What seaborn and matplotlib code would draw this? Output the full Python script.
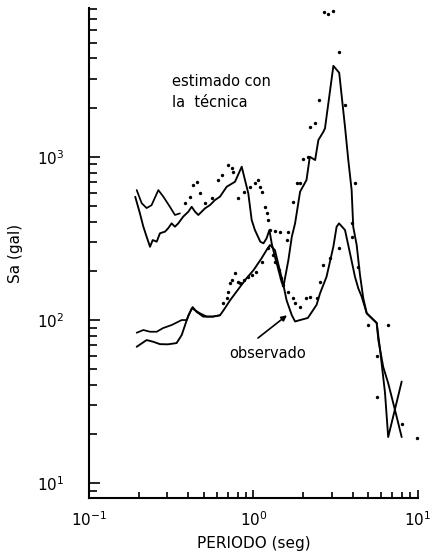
import numpy as np
import matplotlib
matplotlib.use("Agg")
import matplotlib.pyplot as plt
import seaborn as sns
from matplotlib.ticker import LogLocator, NullFormatter

# ---- data (period T in s, spectral acceleration Sa in gal) ----
upper_obs_T = [0.191, 0.204, 0.214, 0.224, 0.235, 0.244, 0.258, 0.270, 0.290, 0.303,
               0.318, 0.333, 0.349, 0.374, 0.402, 0.421, 0.441, 0.462, 0.484, 0.507,
               0.544, 0.583, 0.626, 0.687, 0.772, 0.848, 0.888, 0.930, 0.975, 1.02,
               1.10, 1.15, 1.20, 1.25, 1.29, 1.35, 1.42, 1.48, 1.52, 1.63,
               1.71, 1.79, 1.92, 2.10, 2.20, 2.37, 2.48, 2.66, 2.72, 3.06,
               3.32, 3.60, 3.77, 3.95, 4.04, 4.24, 4.44, 4.65, 4.88, 5.61,
               5.88, 6.30, 6.59, 7.96]
upper_obs_Sa = [569, 450, 373, 324, 281, 309, 302, 340, 348, 365,
                391, 373, 391, 430, 461, 494, 461, 440, 461, 483,
                506, 543, 570, 655, 703, 869, 720, 597, 410, 356,
                302, 295, 316, 356, 295, 244, 202, 172, 160, 233,
                324, 391, 611, 720, 1000, 955, 1266, 1423, 1492, 3605,
                3267, 1527, 955, 626, 372, 288, 189, 136, 110, 96,
                66, 36, 19.2, 42]

lower_obs_T = [0.195, 0.224, 0.246, 0.270, 0.302, 0.341, 0.366, 0.402, 0.427, 0.452,
               0.495, 0.567, 0.626, 0.67, 0.72, 0.83, 0.91, 1.00, 1.12, 1.20,
               1.26, 1.35, 1.52, 1.59, 1.71, 1.79, 1.92, 2.14, 2.42, 2.54,
               2.78, 3.06, 3.20, 3.31, 3.60, 3.86, 4.14, 4.34, 4.55, 4.88,
               5.61, 5.74, 6.15, 6.59, 7.25, 7.96]
lower_obs_Sa = [68.6, 75.4, 73.6, 71.2, 71, 72.3, 80.9, 107, 120, 112,
                105, 105, 107, 118, 132, 160, 181, 202, 239, 268,
                288, 268, 164, 132, 107, 98, 100, 103, 124, 146,
                184, 282, 372, 391, 356, 257, 184, 156, 139, 110,
                96, 75.5, 51.5, 41.1, 28.1, 19.2]

# estimated spectra: dense (short-period) part drawn as a line, rest as dots
upper_est_line_T = [0.195, 0.209, 0.224, 0.240, 0.264, 0.283, 0.310, 0.333, 0.357]
upper_est_line_Sa = [625, 520, 485, 505, 625, 570, 495, 440, 450]
upper_est_dot_T = [0.383, 0.411, 0.431, 0.452, 0.473, 0.51, 0.56, 0.61, 0.64, 0.70,
                   0.74, 0.75, 0.81, 0.87, 0.95, 1.02, 1.07, 1.10, 1.12, 1.17,
                   1.20, 1.23, 1.26, 1.35, 1.45, 1.59, 1.63, 1.73, 1.83, 1.92, 2.01,
                   2.15, 2.20, 2.37, 2.51, 2.68, 2.85, 3.06, 3.32, 3.60, 4.14,
                   6.59, 7.96]
upper_est_dot_Sa = [520, 570, 670, 700, 600, 520, 560, 720, 773, 890,
                    850, 810, 556, 611, 655, 687, 720, 655, 611, 494,
                    450, 410, 356, 350, 348, 309, 348, 530, 693, 693, 964,
                    1000, 1527, 1602, 2223, 7730, 7480, 7830, 4355, 2072, 693,
                    93, 23]

lower_est_line_T = [0.195, 0.214, 0.235, 0.258, 0.282, 0.318, 0.366, 0.393, 0.421, 0.441,
                    0.473, 0.520, 0.567, 0.626]
lower_est_line_Sa = [83.6, 86.9, 84.8, 84.8, 89.3, 93.2, 100, 100, 118, 115,
                     110, 105, 105, 107]
lower_est_dot_T = [0.655, 0.687, 0.70, 0.72, 0.74, 0.77, 0.81, 0.83, 0.88, 0.93, 0.975, 1.04,
                   1.13, 1.23, 1.32, 1.35, 1.42, 1.48, 1.52, 1.63, 1.74, 1.79,
                   1.92, 2.10, 2.22, 2.42, 2.54, 2.66, 2.92, 3.32, 3.95, 3.95,
                   4.34, 4.99, 5.61, 5.61, 9.9]
lower_est_dot_Sa = [127, 136, 149, 168, 176, 193, 172, 168, 176, 183, 189, 197,
                    227, 275, 250, 228, 202, 181, 164, 149, 136, 127,
                    121, 136, 139, 136, 172, 217, 239, 275, 391, 322,
                    212, 93, 60, 34, 19]

x_label = "PERIODO (seg)"
y_label = "Sa (gal)"
note_est = "estimado con\nla  técnica"
note_obs = "observado"

# ---- plotting ----
sns.set_style("ticks", {"xtick.direction": "in", "ytick.direction": "in"})
plt.rcParams["font.family"] = ["DejaVu Sans"]
plt.rcParams.update({"text.color": "black", "axes.labelcolor": "black",
                     "xtick.color": "black", "ytick.color": "black",
                     "axes.edgecolor": "black"})

fig = plt.figure(figsize=(4.41, 5.59), dpi=100)
ax = fig.add_axes([0.2018, 0.1091, 0.7460, 0.8766])
ax.set_xscale("log")
ax.set_yscale("log")

lw = 1.35
sns.lineplot(x=upper_obs_T, y=upper_obs_Sa, ax=ax, color="black", lw=lw,
             sort=False, estimator=None)
sns.lineplot(x=lower_obs_T, y=lower_obs_Sa, ax=ax, color="black", lw=lw,
             sort=False, estimator=None)
sns.lineplot(x=upper_est_line_T, y=upper_est_line_Sa, ax=ax, color="black", lw=1.25,
             sort=False, estimator=None)
sns.lineplot(x=lower_est_line_T, y=lower_est_line_Sa, ax=ax, color="black", lw=1.25,
             sort=False, estimator=None)
sns.scatterplot(x=upper_est_dot_T, y=upper_est_dot_Sa, ax=ax, color="black",
                s=6, linewidth=0, clip_on=False)
sns.scatterplot(x=lower_est_dot_T, y=lower_est_dot_Sa, ax=ax, color="black",
                s=6, linewidth=0, clip_on=False)

ax.set_xlim(0.1, 10)
ax.set_ylim(8.13, 8150)

for s in ["top", "right"]:
    ax.spines[s].set_visible(False)
for s in ["left", "bottom"]:
    ax.spines[s].set_linewidth(1.5)
    ax.spines[s].set_color("black")

ax.xaxis.set_major_locator(LogLocator(base=10))
ax.yaxis.set_major_locator(LogLocator(base=10))
ax.xaxis.set_minor_locator(LogLocator(base=10, subs=np.arange(2, 10)))
ax.yaxis.set_minor_locator(LogLocator(base=10, subs=np.arange(2, 10)))
ax.xaxis.set_minor_formatter(NullFormatter())
ax.yaxis.set_minor_formatter(NullFormatter())

ax.tick_params(axis="y", which="major", direction="in", length=8, width=1.2,
               pad=18, labelsize=11, colors="black")
ax.tick_params(axis="y", which="minor", direction="in", length=6, width=1.2,
               colors="black")
ax.tick_params(axis="x", which="major", direction="in", length=6, width=1.2,
               pad=9, labelsize=11, colors="black")
ax.tick_params(axis="x", which="minor", direction="in", length=4, width=1.2,
               colors="black")

ax.set_xlabel(x_label, fontsize=11, labelpad=5, color="black")
ax.set_ylabel(y_label, fontsize=11, labelpad=10, color="black")

ax.text(0.32, 2490, note_est, fontsize=10.5, ha="left", va="center",
        linespacing=1.45, color="black")
ax.text(1.216, 62.8, note_obs, fontsize=10.5, ha="center", va="center",
        color="black")
ax.annotate("", xy=(1.598, 107), xytext=(1.065, 77.6),
            arrowprops=dict(arrowstyle="-|>", color="black", lw=1.2,
                            mutation_scale=8, shrinkA=0, shrinkB=0))

fig.savefig("out.png", dpi=100)
